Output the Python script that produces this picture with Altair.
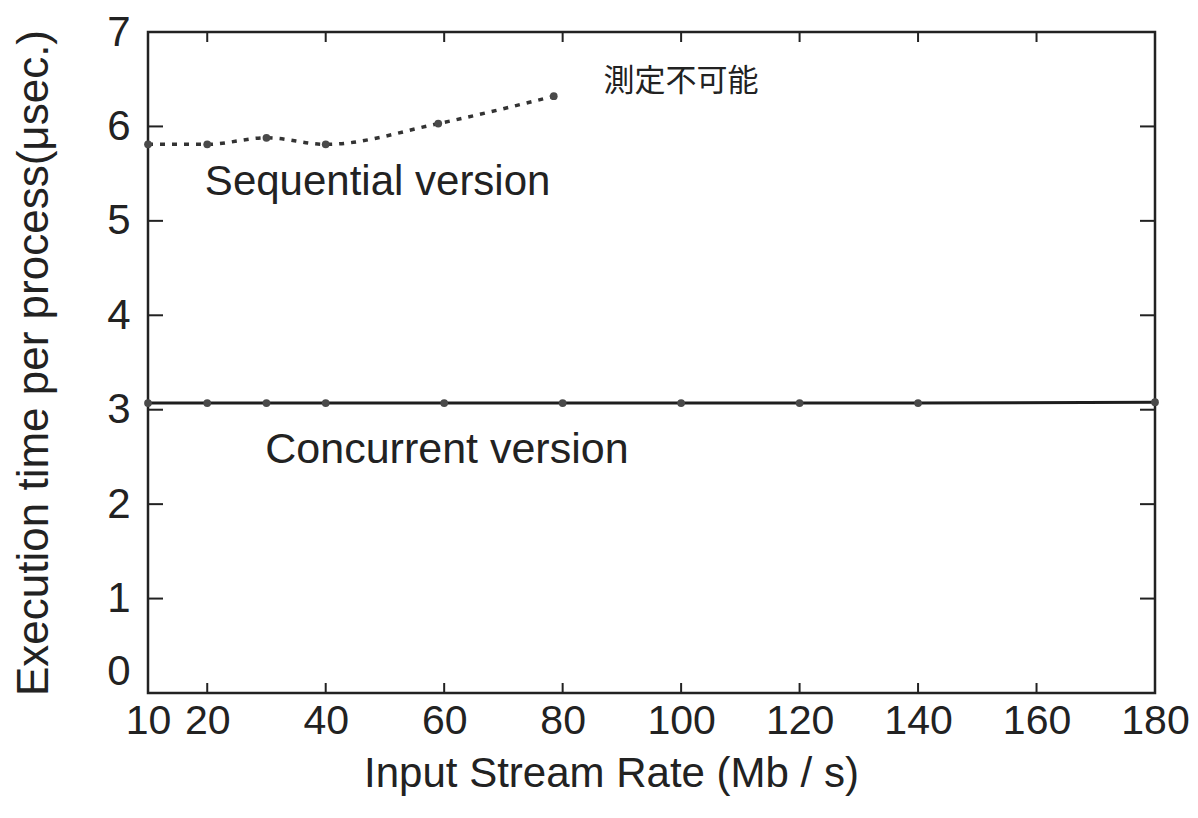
import altair as alt
import pandas as pd

# Data
conc_x = [10, 20, 30, 40, 60, 80, 100, 120, 140, 180]
conc_y = [3.07, 3.07, 3.07, 3.07, 3.07, 3.07, 3.07, 3.07, 3.07, 3.08]
seq_x = [10, 20, 30, 40, 59, 78.5]
seq_y = [5.81, 5.81, 5.88, 5.81, 6.03, 6.32]

x_ticks = [10, 20, 40, 60, 80, 100, 120, 140, 160, 180]
x_inner_ticks = [20, 40, 60, 80, 100, 120, 140, 160]
y_ticks = [0, 1, 2, 3, 4, 5, 6, 7]
y_inner_ticks = [1, 2, 3, 4, 5, 6]

W, H = 1007, 661
FONT = "Liberation Sans"
INK = "#222222"

conc = pd.DataFrame({"x": conc_x, "y": conc_y})
seq = pd.DataFrame({"x": seq_x, "y": seq_y})
xt = pd.DataFrame({"v": x_inner_ticks})
yt = pd.DataFrame({"v": y_inner_ticks})

xscale = alt.Scale(domain=[10, 180], nice=False, zero=False)
yscale = alt.Scale(domain=[0, 7], nice=False, zero=True)

xaxis = alt.Axis(values=x_ticks, format="d", ticks=False, domain=False, grid=False,
                 labelOverlap=False, labelFlush=False,
                 labelFontSize=41, labelFont=FONT, labelColor=INK, labelPadding=8,
                 title="Input Stream Rate (Mb / s)", titleFont=FONT, titleFontSize=42,
                 titleFontWeight="normal", titleColor=INK, titlePadding=12, titleX=463)
yaxis = alt.Axis(values=y_ticks, format="d", ticks=False, domain=False, grid=False,
                 labelOverlap=False, labelFlush=False,
                 labelFontSize=42, labelFont=FONT, labelColor=INK, labelPadding=18,
                 labelOffset={"condition": {"test": "datum.value == 0", "value": -22}, "value": 0},
                 title="Execution time per process(μsec.)", titleFont=FONT, titleFontSize=44,
                 titleFontWeight="normal", titleColor=INK, titlePadding=50)

conc_line = alt.Chart(conc).mark_line(color="#1e1e1e", strokeWidth=3).encode(
    x=alt.X("x:Q", scale=xscale, axis=xaxis),
    y=alt.Y("y:Q", scale=yscale, axis=yaxis),
)
conc_pts = alt.Chart(conc).mark_circle(color="#4a4a4a", size=60, opacity=1).encode(
    x=alt.X("x:Q", scale=xscale), y=alt.Y("y:Q", scale=yscale))

seq_line = alt.Chart(seq).mark_line(color="#333333", strokeWidth=3.5, strokeDash=[5, 7],
                                    interpolate="monotone").encode(
    x=alt.X("x:Q", scale=xscale), y=alt.Y("y:Q", scale=yscale))
seq_pts = alt.Chart(seq).mark_circle(color="#4a4a4a", size=60, opacity=1).encode(
    x=alt.X("x:Q", scale=xscale), y=alt.Y("y:Q", scale=yscale))

# inward tick marks on all four sides
tick_left = alt.Chart(yt).mark_rule(color=INK, strokeWidth=2).encode(
    y=alt.Y("v:Q", scale=yscale), x=alt.value(0), x2=alt.value(15))
tick_right = alt.Chart(yt).mark_rule(color=INK, strokeWidth=2).encode(
    y=alt.Y("v:Q", scale=yscale), x=alt.value(W - 15), x2=alt.value(W))
tick_bottom = alt.Chart(xt).mark_rule(color=INK, strokeWidth=2).encode(
    x=alt.X("v:Q", scale=xscale), y=alt.value(H - 10), y2=alt.value(H))
tick_top = alt.Chart(xt).mark_rule(color=INK, strokeWidth=2).encode(
    x=alt.X("v:Q", scale=xscale), y=alt.value(0), y2=alt.value(10))

lbl_seq = alt.Chart().mark_text(text="Sequential version", font=FONT, fontSize=42,
                                align="left", baseline="middle", color=INK).encode(
    x=alt.datum(19.6, scale=xscale), y=alt.datum(5.41, scale=yscale))
lbl_conc = alt.Chart().mark_text(text="Concurrent version", font=FONT, fontSize=43,
                                 align="left", baseline="middle", color=INK).encode(
    x=alt.datum(29.8, scale=xscale), y=alt.datum(2.57, scale=yscale))
lbl_jp = alt.Chart().mark_text(text="測定不可能", font="Noto Sans CJK JP", fontSize=31,
                               align="left", baseline="middle", color=INK).encode(
    x=alt.datum(86.9, scale=xscale), y=alt.datum(6.47, scale=yscale))

chart = alt.layer(
    conc_line, conc_pts, seq_line, seq_pts,
    tick_left, tick_right, tick_bottom, tick_top,
    lbl_seq, lbl_conc, lbl_jp,
).properties(
    width=W, height=H,
    autosize=alt.AutoSizeParams(type="none"),
    padding={"left": 140, "top": 24, "right": 35, "bottom": 109},
    background="white",
).configure_view(stroke=INK, strokeWidth=2.5)

chart.save("out.html", embed_options={"renderer": "svg", "actions": False})
